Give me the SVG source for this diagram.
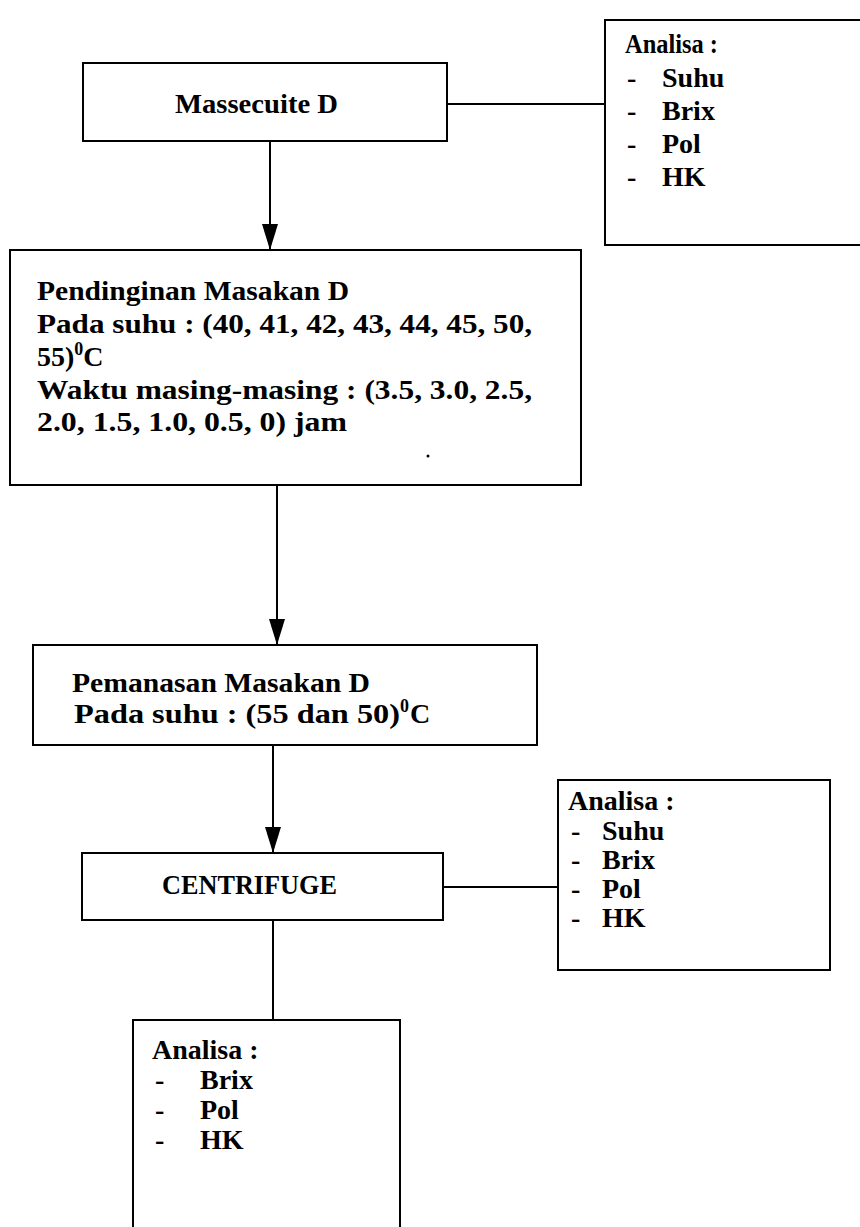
<svg xmlns="http://www.w3.org/2000/svg" width="860" height="1227" viewBox="0 0 860 1227">
<style>
rect.box{fill:#fff;stroke:#000;stroke-width:2}
.c{stroke:#000;stroke-width:2;fill:none}
text{font-family:"Liberation Serif","Times New Roman",serif;font-weight:bold;font-size:28px;fill:#000}
.sm{font-size:18px}
</style>
<defs>
<marker id="ah" markerWidth="26" markerHeight="16" refX="26" refY="8" orient="auto" markerUnits="userSpaceOnUse" viewBox="0 0 26 16">
<path d="M0,0 L26,8 L0,16 Z" fill="#000"/>
</marker>
</defs>
<rect width="860" height="1227" fill="#fff"/>
<g id="connectors">
<line class="c" x1="270" y1="141" x2="270" y2="250" marker-end="url(#ah)"/>
<line class="c" x1="447" y1="104" x2="605" y2="104"/>
<line class="c" x1="277" y1="485" x2="277" y2="645" marker-end="url(#ah)"/>
<line class="c" x1="273" y1="745" x2="273" y2="853" marker-end="url(#ah)"/>
<line class="c" x1="443" y1="887" x2="558" y2="887"/>
<line class="c" x1="273" y1="920" x2="273" y2="1020"/>
</g>
<g id="massecuite">
<rect class="box" x="83" y="63" width="364" height="78"/>
<text x="175" y="113" textLength="163" lengthAdjust="spacingAndGlyphs">Massecuite D</text>
</g>
<g id="analisa1">
<rect class="box" x="605" y="20" width="262" height="225"/>
<text x="625" y="53" textLength="93" lengthAdjust="spacingAndGlyphs">Analisa :</text>
<text x="627" y="87">-</text><text x="662" y="87">Suhu</text>
<text x="627" y="120">-</text><text x="662" y="120">Brix</text>
<text x="627" y="153">-</text><text x="662" y="153">Pol</text>
<text x="627" y="186">-</text><text x="662" y="186">HK</text>
</g>
<g id="pendinginan">
<rect class="box" x="10" y="250" width="571" height="235"/>
<text x="37" y="300" textLength="312" lengthAdjust="spacingAndGlyphs">Pendinginan Masakan D</text>
<text x="37" y="333" textLength="495" lengthAdjust="spacingAndGlyphs">Pada suhu : (40, 41, 42, 43, 44, 45, 50,</text>
<text x="37" y="366">55)<tspan class="sm" dy="-11">0</tspan><tspan dy="11">C</tspan></text>
<text x="37" y="399" textLength="495" lengthAdjust="spacingAndGlyphs">Waktu masing-masing : (3.5, 3.0, 2.5,</text>
<text x="37" y="431" textLength="310" lengthAdjust="spacingAndGlyphs">2.0, 1.5, 1.0, 0.5, 0) jam</text>
<circle cx="428" cy="456" r="1.5" fill="#000"/>
</g>
<g id="pemanasan">
<rect class="box" x="33" y="645" width="504" height="100"/>
<text x="72" y="692" textLength="298" lengthAdjust="spacingAndGlyphs">Pemanasan Masakan D</text>
<text x="74" y="723" textLength="326" lengthAdjust="spacingAndGlyphs">Pada suhu : (55 dan 50)</text>
<text x="400" y="712" class="sm">0</text>
<text x="410" y="723">C</text>
</g>
<g id="centrifuge">
<rect class="box" x="82" y="853" width="361" height="67"/>
<text x="162" y="894" textLength="175" lengthAdjust="spacingAndGlyphs">CENTRIFUGE</text>
</g>
<g id="analisa2">
<rect class="box" x="558" y="780" width="272" height="190"/>
<text x="568" y="810">Analisa :</text>
<text x="571" y="840">-</text><text x="602" y="840">Suhu</text>
<text x="571" y="869">-</text><text x="602" y="869">Brix</text>
<text x="571" y="898">-</text><text x="602" y="898">Pol</text>
<text x="571" y="927">-</text><text x="602" y="927">HK</text>
</g>
<g id="analisa3">
<rect class="box" x="133" y="1020" width="267" height="220"/>
<text x="152" y="1059">Analisa :</text>
<text x="155" y="1089">-</text><text x="200" y="1089">Brix</text>
<text x="155" y="1119">-</text><text x="200" y="1119">Pol</text>
<text x="155" y="1149">-</text><text x="200" y="1149">HK</text>
</g>
</svg>
